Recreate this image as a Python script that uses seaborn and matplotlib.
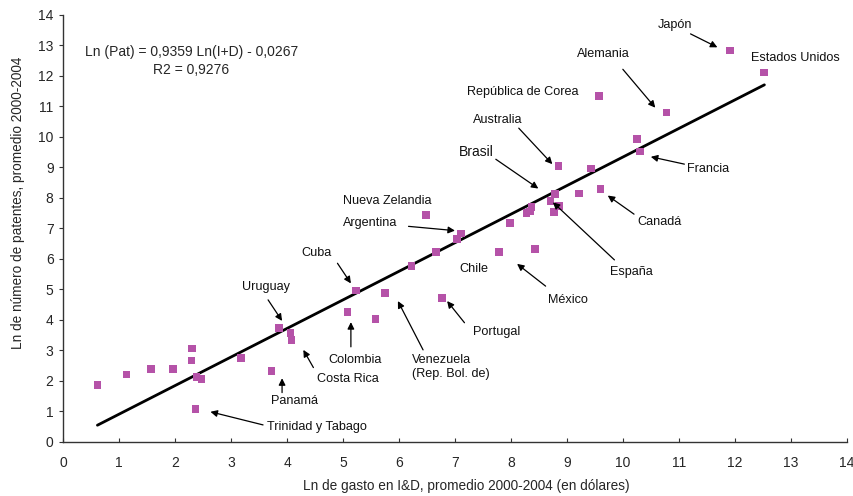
import matplotlib
matplotlib.use("Agg")
import matplotlib.pyplot as plt
import seaborn as sns
import pandas as pd

# ---- data ----
ln_gasto = [0.61, 1.13, 1.57, 1.96, 2.30, 2.29, 2.38, 2.47, 2.36, 3.18,
            3.72, 3.86, 4.06, 4.08, 5.08, 5.23, 5.58, 5.75, 6.22, 6.48,
            7.11, 7.04, 6.66, 6.77, 7.98, 7.79, 8.43, 8.28, 8.34, 8.37,
            8.79, 8.71, 8.77, 8.86, 9.22, 9.60, 8.85, 9.43, 10.25, 10.31,
            9.57, 10.78, 11.91, 12.52]
ln_patentes = [1.85, 2.20, 2.39, 2.39, 3.05, 2.66, 2.13, 2.05, 1.08, 2.75,
               2.31, 3.73, 3.56, 3.33, 4.25, 4.96, 4.03, 4.87, 5.76, 7.44,
               6.83, 6.64, 6.22, 4.72, 7.17, 6.22, 6.32, 7.49, 7.55, 7.69,
               8.12, 7.90, 7.54, 7.73, 8.14, 8.29, 9.03, 8.96, 9.92, 9.51,
               11.33, 10.79, 12.82, 12.11]
trend_x = [0.61, 12.53]
trend_y = [0.54, 11.70]
x_ticks = list(range(0, 15))
y_ticks = list(range(0, 15))
equation = "Ln (Pat) = 0,9359 Ln(I+D) - 0,0267"
r2_text = "R2 = 0,9276"
x_label = "Ln de gasto en I&D, promedio 2000-2004 (en dólares)"
y_label = "Ln de número de patentes, promedio 2000-2004"

# label, text position, arrow tail, arrow head (None = no arrow)
annotations = [
    ("Japón", (10.94, 13.66), (11.21, 13.37), (11.69, 12.93)),
    ("Estados Unidos", (13.09, 12.59), None, None),
    ("Alemania", (9.65, 12.70), (10.00, 12.21), (10.58, 10.95)),
    ("República de Corea", (8.22, 11.48), None, None),
    ("Australia", (7.76, 10.55), (8.14, 10.28), (8.74, 9.10)),
    ("Francia", (11.53, 8.93), (11.10, 9.10), (10.50, 9.34)),
    ("Canadá", (10.66, 7.21), (10.20, 7.46), (9.73, 8.07)),
    ("España", (10.15, 5.57), (9.85, 5.96), (8.75, 7.85)),
    ("Nueva Zelandia", (5.79, 7.89), None, None),
    ("Argentina", (5.48, 7.16), (6.17, 7.06), (7.00, 6.92)),
    ("Chile", (7.33, 5.65), None, None),
    ("México", (9.02, 4.64), (8.62, 5.10), (8.11, 5.83)),
    ("Portugal", (7.74, 3.60), (7.17, 3.90), (6.86, 4.61)),
    ("Colombia", (5.21, 2.68), (5.14, 3.11), (5.14, 3.92)),
    ("Costa Rica", (5.08, 2.05), (4.47, 2.43), (4.29, 3.01)),
    ("Cuba", (4.53, 6.20), (4.90, 5.85), (5.14, 5.19)),
    ("Uruguay", (3.63, 5.08), (3.66, 4.65), (3.91, 3.96)),
    ("Panamá", (4.14, 1.34), (3.91, 1.61), (3.91, 2.08)),
    ("Trinidad y Tabago", (4.53, 0.49), (3.57, 0.55), (2.63, 0.98)),
]

sns.set_theme(style="white")
plt.rcParams["font.family"] = ["Liberation Sans", "DejaVu Sans"]

df = pd.DataFrame({"x": ln_gasto, "y": ln_patentes})

fig = plt.figure(figsize=(8.54, 4.96), dpi=100)
ax = fig.add_axes([0.0741, 0.1095, 0.9173, 0.8609])

sns.lineplot(x=trend_x, y=trend_y, ax=ax, color="black", linewidth=2.0,
             zorder=2)
sns.scatterplot(data=df, x="x", y="y", ax=ax, marker="s", s=30,
                color="#B552A8", edgecolor="none", linewidth=0, zorder=3)

arrow_style = dict(arrowstyle="-|>", color="black", lw=0.9,
                   mutation_scale=10, shrinkA=0, shrinkB=0)
label_size = 9.1

for label, tpos, tail, head in annotations:
    ax.text(tpos[0], tpos[1], label, fontsize=label_size, ha="center",
            va="center", color="#111111", zorder=4)
    if tail is not None:
        ax.annotate("", xy=head, xytext=tail, arrowprops=arrow_style,
                    zorder=4)

# Brasil (slightly larger label)
ax.text(7.39, 9.49, "Brasil", fontsize=10, ha="center", va="center",
        color="#111111", zorder=4)
ax.annotate("", xy=(8.49, 8.30), xytext=(7.73, 9.26), arrowprops=arrow_style)

# Venezuela two-line label
ax.text(6.23, 2.45, "Venezuela\n(Rep. Bol. de)", fontsize=label_size,
        ha="left", va="center", color="#111111", linespacing=1.2, zorder=4)
ax.annotate("", xy=(5.98, 4.61), xytext=(6.43, 3.01), arrowprops=arrow_style)

ax.text(2.29, 12.77, equation, fontsize=10, ha="center", va="center")
ax.text(2.29, 12.18, r2_text, fontsize=10, ha="center", va="center")

ax.set_xlim(0, 14)
ax.set_ylim(0, 14)
ax.set_xticks(x_ticks)
ax.set_yticks(y_ticks)
ax.set_xlabel(x_label, fontsize=9.8)
ax.set_ylabel(y_label, fontsize=9.8)
ax.xaxis.set_label_coords(0.515, -0.088)
ax.yaxis.set_label_coords(-0.049, 0.56)

for s in ["top", "right"]:
    ax.spines[s].set_visible(False)
for s in ["left", "bottom"]:
    ax.spines[s].set_color("#333333")
    ax.spines[s].set_linewidth(1.0)

ax.tick_params(axis="x", direction="in", length=3, width=0.8,
               color="#333333", labelsize=10, pad=10.5, bottom=True)
ax.tick_params(axis="y", direction="out", length=3, width=0.8,
               color="#333333", labelsize=10, pad=4, left=True)
ax.grid(False)

fig.savefig("out.png", dpi=100)
